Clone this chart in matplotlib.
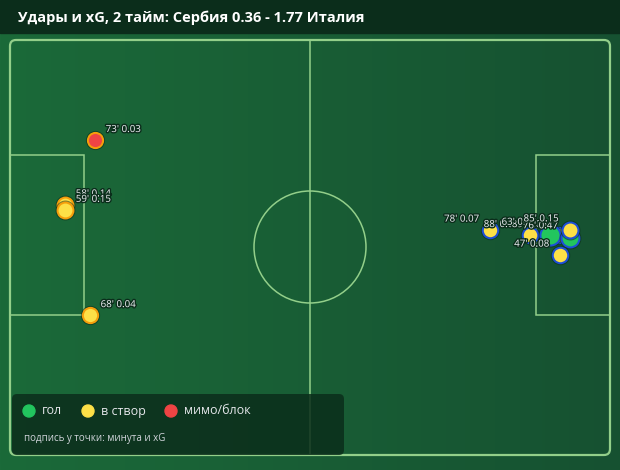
import numpy as np
import matplotlib
matplotlib.use('Agg')
import matplotlib.pyplot as plt
from matplotlib.patches import FancyBboxPatch, Rectangle, Ellipse, Circle
import matplotlib.patheffects as pe
from matplotlib.colors import LinearSegmentedColormap

plt.rcParams['font.family'] = ['Open Sans', 'DejaVu Sans']

title = 'Удары и xG, 2 тайм: Сербия 0.36 - 1.77 Италия'

# shots in pitch metres (105 x 68), y measured from the top touchline
srb_min = [73, 58, 59, 68]
srb_xg = [0.03, 0.14, 0.15, 0.04]
srb_x = [14.9, 9.6, 9.6, 14.0]
srb_y = [16.4, 27.0, 27.9, 45.1]
srb_res = ['miss', 'on', 'on', 'on']

ita_min = [78, 88, 89, 63, 76, 85, 47]
ita_xg = [0.07, 0.09, 0.06, 0.85, 0.47, 0.15, 0.08]
ita_x = [84.0, 91.0, 95.9, 94.5, 98.0, 98.0, 96.3]
ita_y = [31.1, 32.0, 32.0, 32.0, 32.4, 31.1, 35.2]
ita_res = ['on', 'on', 'on', 'goal', 'goal', 'on', 'on']

legend_keys = ['goal', 'on', 'miss']
legend_names = ['гол', 'в створ', 'мимо/блок']
colors = {'goal': '#22c55e', 'on': '#fde047', 'miss': '#ef4444'}

line_c = '#93cf8a'
dark = '#0b2d1b'

fig = plt.figure(figsize=(6.2, 4.7), dpi=100)

# background axes in pixels
bg = fig.add_axes([0, 0, 1, 1])
bg.set_xlim(0, 620)
bg.set_ylim(470, 0)
bg.axis('off')
cmap = LinearSegmentedColormap.from_list('g', ['#1b6a39', '#165131'])
bg.imshow(np.linspace(0, 1, 256)[None, :], cmap=cmap, aspect='auto',
          extent=[0, 620, 470, 0], zorder=0)
bg.add_patch(Rectangle((0, 0), 620, 33, color=dark, zorder=1))
bg.text(18, 18, title, color='white', fontsize=10.5, fontweight='bold',
        va='center', ha='left', zorder=2)
bg.add_patch(FancyBboxPatch((10, 40), 600, 415, boxstyle='round,pad=0,rounding_size=6',
                            fill=False, ec=line_c, lw=1.6, zorder=2))

# pitch axes in metres
ax = fig.add_axes([10 / 620, 15 / 470, 600 / 620, 415 / 470])
ax.set_xlim(0, 105)
ax.set_ylim(68, 0)
ax.axis('off')
ax.patch.set_alpha(0)
sx = 105 / 600
sy = 68 / 415
ax.plot([52.5, 52.5], [0, 68], color=line_c, lw=1.1, zorder=1)
ax.add_patch(Ellipse((52.5, 207 * sy), 112 * sx, 112 * sy, fill=False, ec=line_c, lw=1.1, zorder=1))
ax.add_patch(Rectangle((0, 115 * sy), 74 * sx, 160 * sy, fill=False, ec=line_c, lw=1.1, zorder=1))
ax.add_patch(Rectangle((105 - 74 * sx, 115 * sy), 74 * sx, 160 * sy, fill=False, ec=line_c, lw=1.1, zorder=1))

px = 0.72  # points per pixel
stroke = [pe.withStroke(linewidth=2, foreground=dark)]


def draw_team(xs, ys, xg, res, edge):
    r = 7.5 + 3 * np.array(xg)
    s = (2 * r * px) ** 2
    for i in range(len(xs)):
        ax.scatter(xs[i], ys[i], s=(2 * (r[i] + 2) * px) ** 2, color=dark, alpha=0.55,
                   lw=0, zorder=3 + i * 0.01)
        ax.scatter(xs[i], ys[i], s=s[i], color=colors[res[i]], ec=edge, lw=2 * px,
                   zorder=3.005 + i * 0.01)
    return r


def label_team(xs, ys, mins, xg, r, right):
    for i in range(len(xs)):
        dx = -(r[i] + 3) if right else (r[i] + 3)
        ax.annotate(f"{mins[i]}' {xg[i]:.2f}", (xs[i], ys[i]),
                    xytext=(dx * px, (r[i] + 3) * px), textcoords='offset points',
                    ha='right' if right else 'left', va='center', fontsize=7,
                    color='#e5e7eb', family=['Noto Sans', 'DejaVu Sans'],
                    path_effects=stroke, zorder=5)


r_srb = draw_team(srb_x, srb_y, srb_xg, srb_res, '#f59e0b')
r_ita = draw_team(ita_x, ita_y, ita_xg, ita_res, '#1d4ed8')
label_team(srb_x, srb_y, srb_min, srb_xg, r_srb, False)
label_team(ita_x, ita_y, ita_min, ita_xg, r_ita, True)

# legend box
bg2 = fig.add_axes([0, 0, 1, 1])
bg2.set_xlim(0, 620)
bg2.set_ylim(470, 0)
bg2.axis('off')
bg2.patch.set_alpha(0)
bg2.add_patch(FancyBboxPatch((12, 394), 332, 61, boxstyle='round,pad=0,rounding_size=5',
                             fc=dark, ec='none', alpha=0.85, zorder=1))
leg_x = [29, 88, 171]
for k, name, lx in zip(legend_keys, legend_names, leg_x):
    bg2.add_patch(Circle((lx, 411), 6, color=colors[k], zorder=2))
    bg2.text(lx + 13, 411, name, color='#e5e7eb', fontsize=9, va='center', ha='left', zorder=2)
bg2.text(24, 438, 'подпись у точки: минута и xG', color='#d1d5db', fontsize=7,
         va='center', ha='left', zorder=2)

fig.savefig('out.png', dpi=100)
